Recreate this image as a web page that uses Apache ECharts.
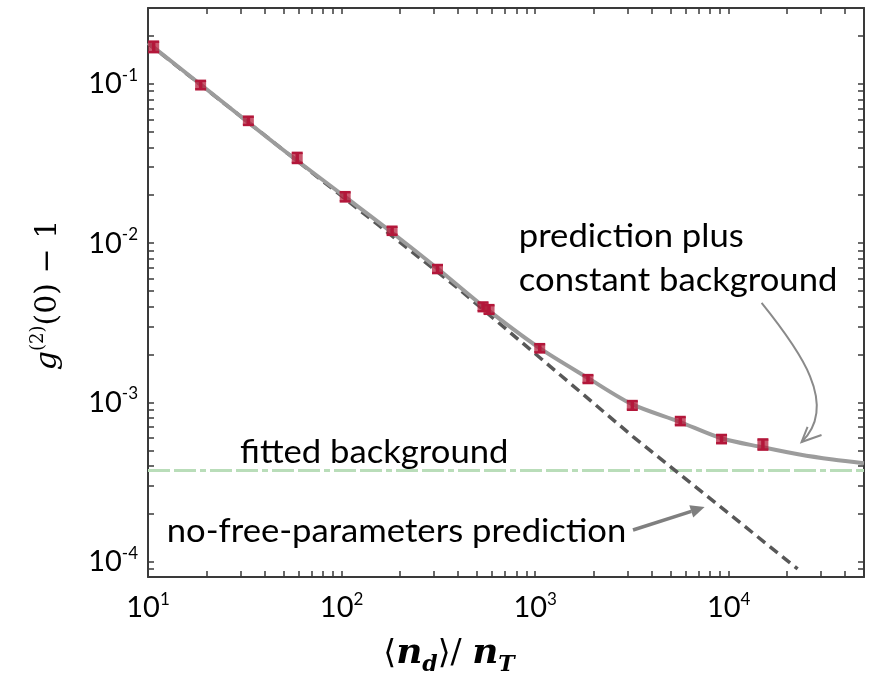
<!DOCTYPE html>
<html>
<head>
<meta charset="utf-8">
<script src="https://cdn.jsdelivr.net/npm/echarts@6/dist/echarts.min.js"></script>
<style>
  html, body { margin: 0; padding: 0; background: #ffffff; }
  #chart { width: 871px; height: 677px; }
</style>
</head>
<body>
<div id="chart"></div>
<script>
// Measured excess correlation g2(0) - 1 versus <n_d>/n_T, with error bars
const ratio    = [10.7, 18.7, 33.0, 59.0, 104.4, 182.4, 313, 538, 578, 1056, 1875, 3177, 5623, 9183, 15020];
const g2minus1 = [0.1714, 0.0986, 0.0588, 0.0344, 0.0196, 0.01198, 0.00689, 0.00399, 0.00384, 0.00219, 0.001403, 0.000959, 0.000764, 0.000589, 0.000545];
const g2err    = [0.013, 0.006, 0.0035, 0.0025, 0.0013, 0.0007, 0.0004, 0.00025, 0.00024, 0.00013, 0.00008, 0.00006, 0.000045, 0.000035, 0.00004];

// Prediction plus constant background (solid curve)
const fitX = [10, 20, 50, 100, 180, 313, 540, 1056, 1862, 3163, 5579, 9162, 15020, 23230, 34510, 50000];
const fitY = [0.181, 0.0930, 0.0385, 0.0203, 0.0118, 0.00693, 0.00401, 0.00219, 0.00143, 0.000975, 0.000755, 0.000595, 0.000522, 0.000470, 0.000437, 0.000414];

// No-free-parameters prediction (dashed line)
const predX = [10, 100, 400, 3200, 22700];
const predY = [0.18, 0.0198, 0.0052, 0.00061, 0.00009];

// Fitted background level
const bgX = [10, 50000];
const bgY = [0.000373, 0.000373];

// Axis ranges and labelled decades
const xRange = [10, 50000];
const yRange = [0.00008, 0.3];
const xMajorTicks = [10, 100, 1000, 10000];
const yMajorTicks = [0.0001, 0.001, 0.01, 0.1];

// Annotation anchors, in data units
const noteText = {
  predPlus:   { text: 'prediction plus',               at: [823, 0.01107] },
  constBg:    { text: 'constant background',           at: [823, 0.00586] },
  fittedBg:   { text: 'fitted background',             at: [29.9, 0.000484] },
  noFree:     { text: 'no-free-parameters prediction', at: [12.5, 0.0001545] }
};
const curvedArrow = { from: [14790, 0.00421], c1: [23230, 0.00213], c2: [37360, 0.000963], tip: [23790, 0.000564],
                      arm1: [25550, 0.000701], arm2: [30170, 0.000624] };
const straightArrow = { from: [3203, 0.0001579], tip: [7509, 0.000220] };

const RED = '#b3173a';
const AXIS = '#3a3a3a';
const TEXT_FONT = 'Lato';

// Minor + major tick positions on each decade (1..9 x 10^n) inside a range
function decadeTicks(lo, hi) {
  const out = [];
  const e0 = Math.floor(Math.log10(lo)), e1 = Math.ceil(Math.log10(hi));
  for (let e = e0; e <= e1; e++) {
    for (let k = 1; k <= 9; k++) {
      const v = parseFloat((k * Math.pow(10, e)).toPrecision(6));
      if (v > lo * 1.0001 && v < hi * 0.9999) out.push(v);
    }
  }
  return out;
}
const xTicks = decadeTicks(xRange[0], xRange[1]);
const yTicks = decadeTicks(yRange[0], yRange[1]);

function powLabel(v) {
  const e = Math.round(Math.log10(v));
  return '{b|10}{s|' + (e < 0 ? '-' + (-e) : e) + '}';
}
const labelRich = {
  b: { fontFamily: TEXT_FONT, fontSize: 29, color: '#000', lineHeight: 34 },
  s: { fontFamily: TEXT_FONT, fontSize: 17, color: '#000', lineHeight: 20, verticalAlign: 'top' }
};

function frameAxis(extra) {
  return Object.assign({
    type: 'log',
    logBase: 10,
    axisLine: { show: true, onZero: false, lineStyle: { color: AXIS, width: 2 } },
    splitLine: { show: false },
    minorTick: { show: false },
    minorSplitLine: { show: false }
  }, extra);
}

const chart = echarts.init(document.getElementById('chart'), null, { renderer: 'canvas' });

chart.setOption({
  animation: false,
  backgroundColor: '#ffffff',
  grid: { left: 148, top: 8, width: 716, height: 569, containLabel: false },
  xAxis: [
    frameAxis({
      position: 'bottom', min: xRange[0], max: xRange[1],
      axisTick: { show: true, inside: true, length: 6, customValues: xTicks, lineStyle: { color: AXIS, width: 1.5 } },
      axisLabel: { show: true, customValues: xMajorTicks, margin: 14, formatter: powLabel, rich: labelRich }
    }),
    frameAxis({
      position: 'top', min: xRange[0], max: xRange[1],
      axisTick: { show: true, inside: true, length: 6, customValues: xTicks, lineStyle: { color: AXIS, width: 1.5 } },
      axisLabel: { show: false }
    })
  ],
  yAxis: [
    frameAxis({
      position: 'left', min: yRange[0], max: yRange[1],
      axisTick: { show: true, inside: true, length: 6, customValues: yTicks, lineStyle: { color: AXIS, width: 1.5 } },
      axisLabel: { show: true, customValues: yMajorTicks, margin: 10, formatter: powLabel, rich: labelRich }
    }),
    frameAxis({
      position: 'right', min: yRange[0], max: yRange[1],
      axisTick: { show: true, inside: true, length: 6, customValues: yTicks, lineStyle: { color: AXIS, width: 1.5 } },
      axisLabel: { show: false }
    })
  ],
  series: [
    {
      name: 'fitted background', type: 'line', silent: true, showSymbol: false,
      data: bgX.map((x, i) => [x, bgY[i]]),
      lineStyle: { color: '#b9ddb9', width: 3, type: [22, 4, 22, 4, 6, 4] }, z: 2
    },
    {
      name: 'no-free-parameters prediction', type: 'line', silent: true, showSymbol: false,
      data: predX.map((x, i) => [x, predY[i]]),
      lineStyle: { color: '#585858', width: 3.5, type: [10, 6] }, z: 3
    },
    {
      name: 'prediction plus constant background', type: 'line', silent: true, showSymbol: false,
      smooth: 0.3,
      data: fitX.map((x, i) => [x, fitY[i]]),
      lineStyle: { color: '#9c9c9c', width: 4 }, z: 4
    },
    {
      name: 'measured', type: 'custom', silent: true, z: 5,
      data: ratio.map((x, i) => [x, g2minus1[i], g2err[i]]),
      renderItem: function (params, api) {
        const x = api.value(0), y = api.value(1), e = api.value(2);
        const c = api.coord([x, y]);
        const top = api.coord([x, y + e])[1];
        const bot = api.coord([x, y - e])[1];
        const hw = 5.5;
        return {
          type: 'group',
          children: [
            { type: 'rect', shape: { x: c[0] - hw, y: top, width: hw * 2, height: bot - top },
              style: { fill: 'rgba(180, 25, 55, 0.72)' } },
            { type: 'line', shape: { x1: c[0] - hw, y1: top, x2: c[0] + hw, y2: top },
              style: { stroke: RED, lineWidth: 2.5 } },
            { type: 'line', shape: { x1: c[0] - hw, y1: bot, x2: c[0] + hw, y2: bot },
              style: { stroke: RED, lineWidth: 2.5 } },
            { type: 'line', shape: { x1: c[0], y1: top, x2: c[0], y2: bot },
              style: { stroke: RED, lineWidth: 3.5 } }
          ]
        };
      }
    }
  ]
});

// Annotations and axis titles, placed from data-space anchors
function px(p) { return chart.convertToPixel({ xAxisIndex: 0, yAxisIndex: 0 }, p); }

const graphics = [];
Object.keys(noteText).forEach(function (k) {
  const n = noteText[k];
  const p = px(n.at);
  graphics.push({
    type: 'text', x: p[0], y: p[1], z: 10, scaleX: 1.05,
    style: { text: n.text, fontFamily: TEXT_FONT, fontSize: 33, fill: '#000', align: 'left', verticalAlign: 'middle' }
  });
});

// curved arrow from the upper label down to the solid curve
const a0 = px(curvedArrow.from), a1 = px(curvedArrow.c1), a2 = px(curvedArrow.c2), a3 = px(curvedArrow.tip);
const h1 = px(curvedArrow.arm1), h2 = px(curvedArrow.arm2);
graphics.push({
  type: 'bezierCurve', z: 10,
  shape: { x1: a0[0], y1: a0[1], cpx1: a1[0], cpy1: a1[1], cpx2: a2[0], cpy2: a2[1], x2: a3[0], y2: a3[1] },
  style: { stroke: '#8a8a8a', lineWidth: 2, fill: null }
});
graphics.push({
  type: 'polyline', z: 10,
  shape: { points: [h1, a3, h2] },
  style: { stroke: '#8a8a8a', lineWidth: 2, fill: null }
});

// straight arrow pointing at the dashed line
const s0 = px(straightArrow.from), s1 = px(straightArrow.tip);
const dx = s1[0] - s0[0], dy = s1[1] - s0[1], len = Math.hypot(dx, dy);
const ux = dx / len, uy = dy / len, headLen = 14, headHalf = 6.5;
const base = [s1[0] - ux * headLen, s1[1] - uy * headLen];
graphics.push({
  type: 'line', z: 10,
  shape: { x1: s0[0], y1: s0[1], x2: base[0], y2: base[1] },
  style: { stroke: '#7f7f7f', lineWidth: 3.5 }
});
graphics.push({
  type: 'polygon', z: 10,
  shape: { points: [s1, [base[0] - uy * headHalf, base[1] + ux * headHalf], [base[0] + uy * headHalf, base[1] - ux * headHalf]] },
  style: { fill: '#7f7f7f' }
});

// axis titles
graphics.push({
  type: 'text', z: 10, x: 449, y: 654,
  style: {
    text: '{br|⟨}{n|n}{sub|d}{br|⟩/ }{n|n}{sub|T}',
    align: 'center', verticalAlign: 'middle',
    rich: {
      br:  { fontFamily: 'DejaVu Serif', fontSize: 33, fill: '#000', lineHeight: 44 },
      n:   { fontFamily: 'DejaVu Serif', fontSize: 36, fontWeight: 'bold', fontStyle: 'italic', fill: '#000', lineHeight: 44 },
      sub: { fontFamily: 'DejaVu Serif', fontSize: 22, fontWeight: 'bold', fontStyle: 'italic', fill: '#000', lineHeight: 24, verticalAlign: 'bottom' }
    }
  }
});
graphics.push({
  type: 'text', z: 10, x: 48, y: 295, rotation: Math.PI / 2,
  style: {
    text: '{g|g}{sup|(2)}{r|(0) − 1}',
    align: 'center', verticalAlign: 'middle',
    rich: {
      g:   { fontFamily: 'DejaVu Serif', fontSize: 30, fontStyle: 'italic', fill: '#000', lineHeight: 38 },
      sup: { fontFamily: 'DejaVu Serif', fontSize: 18, fill: '#000', lineHeight: 22, verticalAlign: 'top' },
      r:   { fontFamily: 'DejaVu Serif', fontSize: 30, fill: '#000', lineHeight: 38 }
    }
  }
});

chart.setOption({ graphic: graphics });
</script>
</body>
</html>
